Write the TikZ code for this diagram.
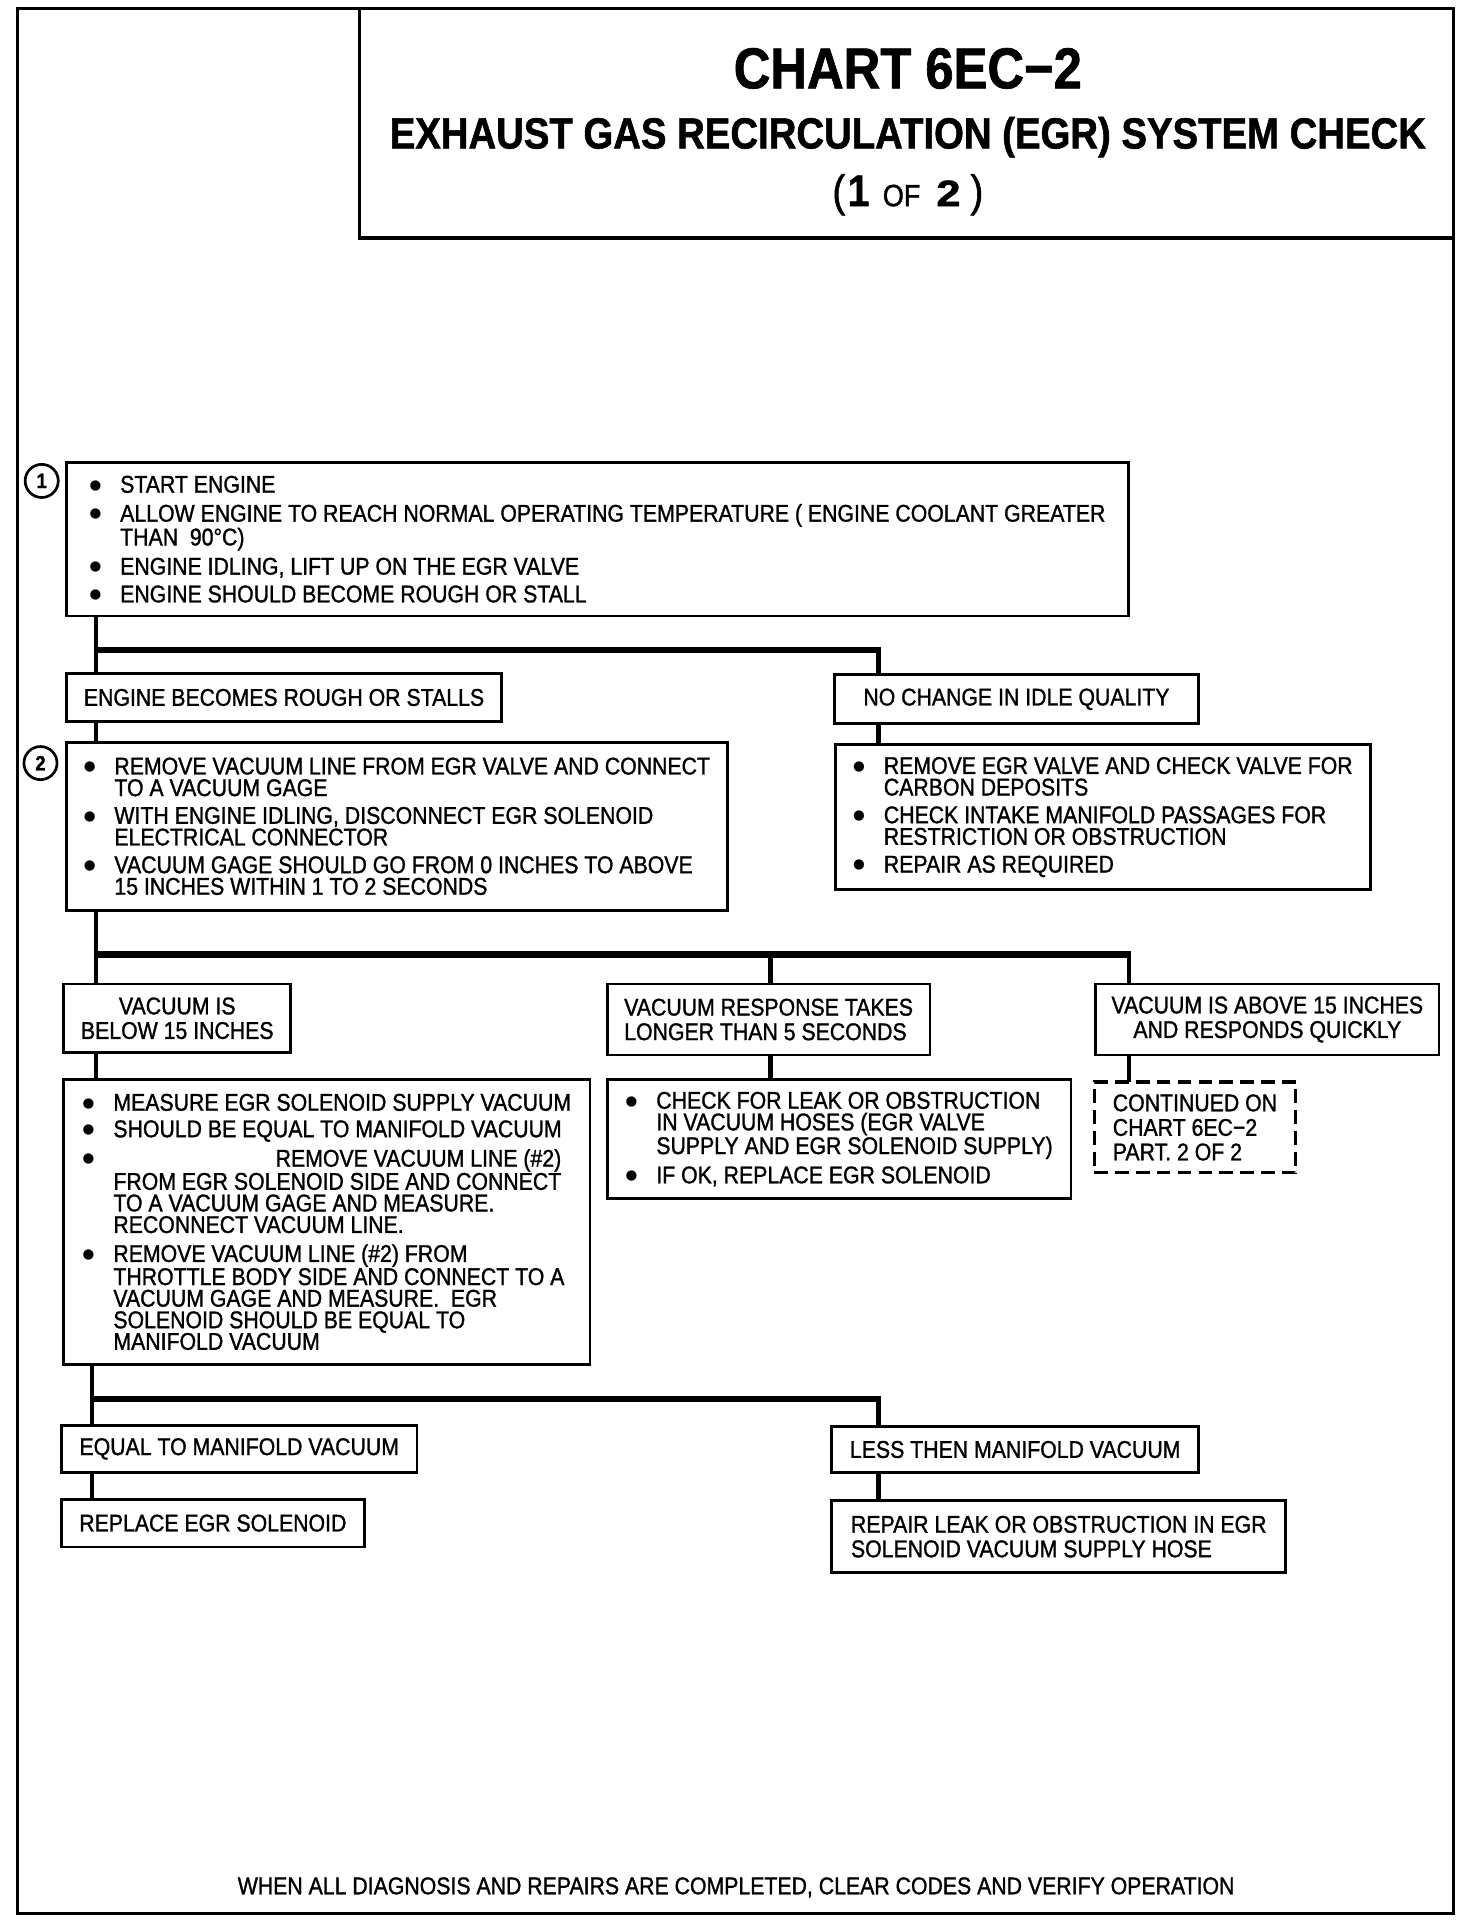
\documentclass[tikz,border=0pt]{standalone}
\usepackage{fontspec}
\setmainfont{Liberation Sans}[FakeStretch=0.88, FakeBold=1.2]
\newfontfamily\dotfont{DejaVu Sans}

\newlength{\remlen}
\newcommand{\bl}{\makebox[25pt][l]{\raisebox{3pt}[0pt][0pt]{\dotfont\fontsize{11}{11}\selectfont ●}}} % bullet of a list line
\newcommand{\ct}{\hspace*{25pt}} % continued list line

\begin{document}
\begin{tikzpicture}[x=1pt, y=-1pt,
    font=\fontsize{19.7}{17.6}\selectfont,
    box/.style={draw, line width=2.2pt, anchor=north west, outer sep=0pt,
        inner xsep=13pt, inner ysep=3pt, align=left},
    cbox/.style={box, align=center},
    widelines/.style={font=\fontsize{19.7}{20}\selectfont},
    dashbox/.style={box, line width=2.6pt, dash pattern=on 11pt off 6pt},
    trunk/.style={line width=3.5pt},
    bar/.style={line width=5pt},
    stepnum/.style={draw, circle, line width=2.2pt, minimum size=27pt,
        inner sep=0pt, font=\fontsize{17}{17}\selectfont\bfseries}
]
    \useasboundingbox (0,0) rectangle (1200,1565);

    % Page frame and title block
    \draw[line width=2.5pt] (14,7) rectangle (1185,1560);
    \node[draw, line width=2.5pt, anchor=north west, outer sep=0pt,
        minimum width=892pt, minimum height=187pt] (titlebox) at (293,7) {};
    \node[anchor=base, font=\fontsize{47}{47}\selectfont\bfseries] (chart) at (740,72) {CHART 6EC−2};
    \node[anchor=base, font=\fontsize{35.5}{36}\selectfont\bfseries] (subtitle) at (740,121)
        {EXHAUST GAS RECIRCULATION (EGR) SYSTEM CHECK};
    \node[anchor=base, font=\fontsize{36}{36}\selectfont] (part) at (740,168)
        {(\hspace{2pt}\textbf{1}\hspace{11pt}{\fontsize{25}{25}\selectfont OF}\hspace{13pt}\scalebox{1.35}[1]{\fontsize{30}{30}\selectfont\bfseries 2}\hspace{8pt})};

    % Step 1
    \node[stepnum] (step1) at (34,392) {1};
    \node[box, minimum width=866pt, minimum height=125pt] (check1) at (54,377) {%
        \bl START ENGINE\\[6pt]
        \bl ALLOW ENGINE TO REACH NORMAL OPERATING TEMPERATURE ( ENGINE COOLANT GREATER\\
        \ct THAN\ \ 90°C)\\[5pt]
        \bl ENGINE IDLING, LIFT UP ON THE EGR VALVE\\[5pt]
        \bl ENGINE SHOULD BECOME ROUGH OR STALL};

    \node[cbox, minimum width=355pt, minimum height=39pt] (rough) at (54,549) {ENGINE BECOMES ROUGH OR STALLS};
    \node[cbox, minimum width=297pt, minimum height=40pt] (nochange) at (680,550) {NO CHANGE IN IDLE QUALITY};

    % Step 2
    \node[stepnum] (step2) at (33,622) {2};
    \node[box, minimum width=539pt, minimum height=137pt] (check2) at (54,605) {%
        \bl REMOVE VACUUM LINE FROM EGR VALVE AND CONNECT\\
        \ct TO A VACUUM GAGE\\[5pt]
        \bl WITH ENGINE IDLING, DISCONNECT EGR SOLENOID\\
        \ct ELECTRICAL CONNECTOR\\[5pt]
        \bl VACUUM GAGE SHOULD GO FROM 0 INCHES TO ABOVE\\
        \ct 15 INCHES WITHIN 1 TO 2 SECONDS};
    \node[box, minimum width=436pt, minimum height=118pt] (repair1) at (681,607) {%
        \bl REMOVE EGR VALVE AND CHECK VALVE FOR\\
        \ct CARBON DEPOSITS\\[5pt]
        \bl CHECK INTAKE MANIFOLD PASSAGES FOR\\
        \ct RESTRICTION OR OBSTRUCTION\\[5pt]
        \bl REPAIR AS REQUIRED};

    % Vacuum gage results
    \node[cbox, widelines, minimum width=185pt, minimum height=56pt] (below) at (52,802)
        {VACUUM IS\\BELOW 15 INCHES};
    \node[box, widelines, minimum width=263pt, minimum height=58pt] (slow) at (495,802)
        {VACUUM RESPONSE TAKES\\LONGER THAN 5 SECONDS};
    \node[cbox, widelines, minimum width=279pt, minimum height=58pt] (quick) at (893,802)
        {VACUUM IS ABOVE 15 INCHES\\AND RESPONDS QUICKLY};

    \node[box, minimum width=429pt, minimum height=232pt] (measure) at (52,880) {%
        \bl MEASURE EGR SOLENOID SUPPLY VACUUM\\[4pt]
        \bl SHOULD BE EQUAL TO MANIFOLD VACUUM\\[5pt]
        \bl\settowidth{\remlen}{FROM EGR SOLENOID SIDE AND CONNECT}\makebox[\remlen][r]{REMOVE VACUUM LINE (\#2)}\\
        \ct FROM EGR SOLENOID SIDE AND CONNECT\\
        \ct TO A VACUUM GAGE AND MEASURE.\\
        \ct RECONNECT VACUUM LINE.\\[6pt]
        \bl REMOVE VACUUM LINE (\#2) FROM\\
        \ct THROTTLE BODY SIDE AND CONNECT TO A\\
        \ct VACUUM GAGE AND MEASURE.\ \ EGR\\
        \ct SOLENOID SHOULD BE EQUAL TO\\
        \ct MANIFOLD VACUUM};
    \node[box, minimum width=378pt, minimum height=97pt] (hoses) at (495,880) {%
        \bl CHECK FOR LEAK OR OBSTRUCTION\\
        \ct IN VACUUM HOSES (EGR VALVE\\
        \ct SUPPLY AND EGR SOLENOID SUPPLY)\\[5pt]
        \bl IF OK, REPLACE EGR SOLENOID};
    \node[dashbox, widelines, minimum width=164pt, minimum height=74pt] (cont) at (892,882)
        {CONTINUED ON\\CHART 6EC−2\\PART. 2 OF 2};

    % Solenoid supply results
    \node[cbox, minimum width=290pt, minimum height=38pt] (equal) at (50,1162) {EQUAL TO MANIFOLD VACUUM};
    \node[cbox, minimum width=299pt, minimum height=37pt] (less) at (678,1163) {LESS THEN MANIFOLD VACUUM};
    \node[cbox, minimum width=247pt, minimum height=39pt] (replace) at (50,1222) {REPLACE EGR SOLENOID};
    \node[box, widelines, minimum width=370pt, minimum height=59pt] (repairhose) at (678,1223)
        {REPAIR LEAK OR OBSTRUCTION IN EGR\\SOLENOID VACUUM SUPPLY HOSE};

    \node[anchor=base] (footer) at (600,1544)
        {WHEN ALL DIAGNOSIS AND REPAIRS ARE COMPLETED, CLEAR CODES AND VERIFY OPERATION};

    % Connectors, step 1
    \coordinate (fork1) at (78,530);
    \coordinate (fork1r) at (716,530);
    \draw[trunk] (check1.south -| fork1) -- (rough.north -| fork1);
    \draw[bar] ([xshift=-1.75pt]fork1) -- ([xshift=1.75pt]fork1r);
    \draw[trunk] ([yshift=2.5pt]fork1r) -- (nochange.north -| fork1r);
    \draw[trunk] (rough.south -| fork1) -- (check2.north -| fork1);
    \draw[trunk] (nochange.south -| fork1r) -- (repair1.north -| fork1r);

    % Connectors, step 2
    \coordinate (fork2) at (78,778);
    \coordinate (fork2m) at (628,778);
    \coordinate (fork2r) at (920,778);
    \draw[trunk] (check2.south -| fork2) -- (below.north -| fork2);
    \draw[bar] ([xshift=-1.75pt]fork2) -- ([xshift=1.75pt]fork2r);
    \draw[trunk] (fork2m) -- (slow.north -| fork2m);
    \draw[trunk] ([yshift=2.5pt]fork2r) -- (quick.north -| fork2r);
    \draw[trunk] (below.south -| fork2) -- (measure.north -| fork2);
    \draw[trunk] (slow.south -| fork2m) -- (hoses.north -| fork2m);
    \draw[trunk] (quick.south -| fork2r) -- (cont.north -| fork2r);

    % Connectors, solenoid supply
    \coordinate (fork3) at (75,1140);
    \coordinate (fork3r) at (716,1140);
    \draw[trunk] (measure.south -| fork3) -- (equal.north -| fork3);
    \draw[bar] ([xshift=-1.75pt]fork3) -- ([xshift=1.75pt]fork3r);
    \draw[trunk] ([yshift=2.5pt]fork3r) -- (less.north -| fork3r);
    \draw[trunk] (equal.south -| fork3) -- (replace.north -| fork3);
    \draw[trunk] (less.south -| fork3r) -- (repairhose.north -| fork3r);

\end{tikzpicture}
\end{document}
